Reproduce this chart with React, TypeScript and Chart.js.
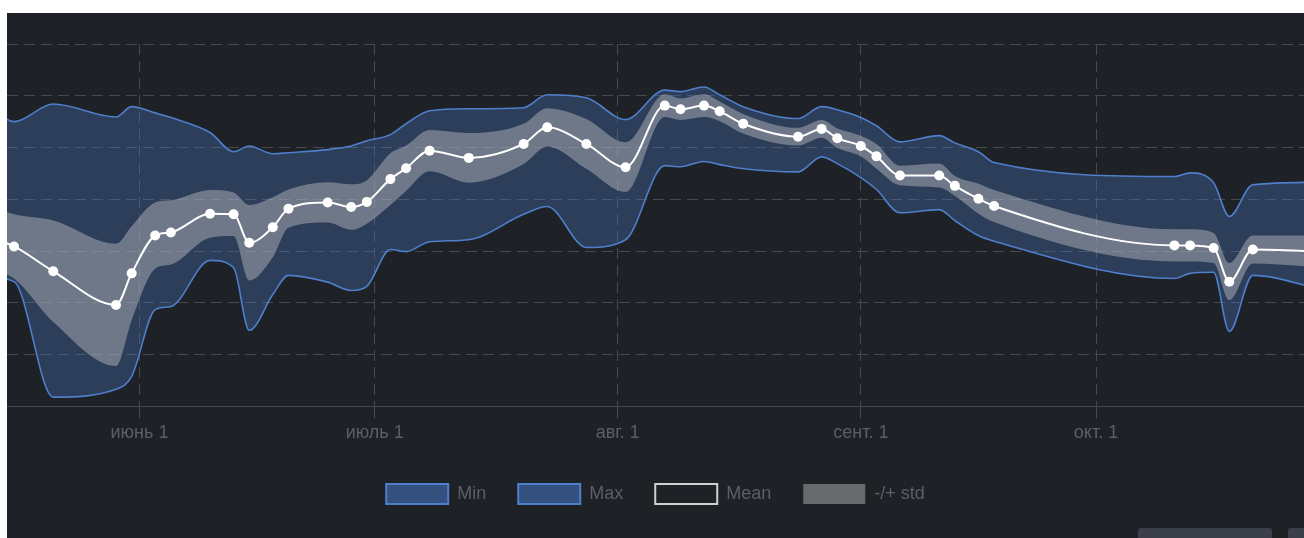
import { useEffect, useRef } from 'react';
import { Chart, registerables } from 'chart.js';

Chart.register(...registerables);

// Observation dates (month-day) and per-date statistics of the index
const DATES = ['05-13', '05-16', '05-21', '05-29', '05-31', '06-03', '06-05', '06-10', '06-13', '06-15', '06-18', '06-20', '06-25', '06-28', '06-30', '07-03', '07-05', '07-08', '07-13', '07-20', '07-23', '07-28', '08-02', '08-07', '08-09', '08-12', '08-14', '08-17', '08-24', '08-27', '08-29', '09-01', '09-03', '09-06', '09-11', '09-13', '09-16', '09-18', '10-11', '10-13', '10-16', '10-18', '10-21', '10-30'];

const MEAN = [0.326, 0.309, 0.261, 0.196, 0.257, 0.330, 0.336, 0.372, 0.371, 0.316, 0.346, 0.382, 0.394, 0.385, 0.395, 0.439, 0.460, 0.494, 0.480, 0.507, 0.539, 0.507, 0.462, 0.581, 0.574, 0.581, 0.570, 0.546, 0.521, 0.536, 0.518, 0.503, 0.483, 0.446, 0.446, 0.426, 0.401, 0.387, 0.311, 0.311, 0.306, 0.241, 0.303, 0.299];

const MIN = [0.249, 0.241, 0.018, 0.033, 0.058, 0.187, 0.193, 0.282, 0.268, 0.147, 0.216, 0.253, 0.240, 0.224, 0.232, 0.303, 0.299, 0.318, 0.322, 0.371, 0.386, 0.307, 0.322, 0.465, 0.463, 0.473, 0.467, 0.459, 0.453, 0.482, 0.469, 0.442, 0.419, 0.374, 0.380, 0.359, 0.330, 0.319, 0.247, 0.257, 0.259, 0.145, 0.253, 0.225];

const MAX = [0.577, 0.550, 0.584, 0.559, 0.579, 0.567, 0.558, 0.529, 0.492, 0.503, 0.488, 0.490, 0.496, 0.503, 0.513, 0.525, 0.546, 0.571, 0.575, 0.577, 0.602, 0.596, 0.554, 0.611, 0.608, 0.617, 0.602, 0.579, 0.556, 0.579, 0.573, 0.558, 0.542, 0.511, 0.523, 0.509, 0.492, 0.471, 0.444, 0.451, 0.432, 0.367, 0.428, 0.433];

const STD = [0.060, 0.062, 0.098, 0.118, 0.091, 0.064, 0.062, 0.046, 0.042, 0.073, 0.058, 0.037, 0.039, 0.044, 0.042, 0.050, 0.044, 0.040, 0.048, 0.039, 0.037, 0.048, 0.048, 0.022, 0.021, 0.022, 0.019, 0.019, 0.017, 0.017, 0.019, 0.020, 0.024, 0.019, 0.023, 0.019, 0.029, 0.031, 0.031, 0.031, 0.029, 0.036, 0.027, 0.031];

// Month-start ticks on the date axis
const TICK_DATES = ['06-01', '07-01', '08-01', '09-01', '10-01'];
const TICK_LABELS = ['июнь 1', 'июль 1', 'авг. 1', 'сент. 1', 'окт. 1'];

// Visible date window (fractional days)
const RANGE_START = '05-16';
const RANGE_START_OFFSET = -0.9;
const RANGE_END = '10-27';
const RANGE_END_OFFSET = 0.53;

const Y_MIN = 0;
const Y_MAX = 0.7;
const Y_STEP = 0.1;

const BG = '#1e2126';
const GRID = '#46494e';
const TEXT = '#5b5f66';
const BLUE_LINE = '#4f7fcb';
const BLUE_FILL = 'rgba(74, 120, 194, 0.33)';
const BLUE_LEGEND = '#33507f';
const STD_FILL = 'rgba(190, 190, 196, 0.45)';
const STD_LEGEND = '#68696c';
const FONT = "'Liberation Sans', Arial, Helvetica, sans-serif";

const dayOfYear = (md: string) => {
  const [m, d] = md.split('-').map(Number);
  return (Date.UTC(2021, m - 1, d) - Date.UTC(2021, 0, 1)) / 86400000;
};

const X = DATES.map(dayOfYear);
const TICK_DAYS = TICK_DATES.map(dayOfYear);
const toPoints = (vals: number[]) => vals.map((y, i) => ({ x: X[i], y }));

export default function App() {
  const canvasRef = useRef<HTMLCanvasElement | null>(null);

  useEffect(() => {
    if (!canvasRef.current) return;
    Chart.defaults.font.family = FONT;

    const chart = new Chart(canvasRef.current, {
      type: 'line',
      data: {
        datasets: [
          {
            label: 'Mean',
            data: toPoints(MEAN),
            borderColor: '#ffffff',
            backgroundColor: '#ffffff',
            borderWidth: 2,
            pointRadius: 5,
            pointBorderWidth: 0,
            pointBackgroundColor: '#ffffff',
            cubicInterpolationMode: 'monotone',
            fill: false,
          },
          {
            label: '-/+ std',
            data: toPoints(MEAN.map((m, i) => m + STD[i])),
            borderColor: 'transparent',
            borderWidth: 0,
            pointRadius: 0,
            backgroundColor: STD_FILL,
            cubicInterpolationMode: 'monotone',
            fill: '+1',
          },
          {
            label: 'std-lower',
            data: toPoints(MEAN.map((m, i) => m - STD[i])),
            borderColor: 'transparent',
            borderWidth: 0,
            pointRadius: 0,
            backgroundColor: STD_FILL,
            cubicInterpolationMode: 'monotone',
            fill: false,
          },
          {
            label: 'Min',
            data: toPoints(MIN),
            borderColor: BLUE_LINE,
            borderWidth: 1.6,
            pointRadius: 0,
            backgroundColor: BLUE_FILL,
            cubicInterpolationMode: 'monotone',
            fill: false,
          },
          {
            label: 'Max',
            data: toPoints(MAX),
            borderColor: BLUE_LINE,
            borderWidth: 1.6,
            pointRadius: 0,
            backgroundColor: BLUE_FILL,
            cubicInterpolationMode: 'monotone',
            fill: '-1',
          },
        ],
      },
      options: {
        animation: false,
        responsive: true,
        maintainAspectRatio: false,
        events: [],
        layout: { autoPadding: false, padding: { top: 31, bottom: 24, left: 0, right: 0 } },
        plugins: {
          tooltip: { enabled: false },
          legend: {
            display: true,
            position: 'bottom',
            labels: {
              boxWidth: 62,
              boxHeight: 20,
              padding: 32,
              color: TEXT,
              font: { size: 18, family: FONT },
              generateLabels: () => [
                { text: 'Min', fillStyle: BLUE_LEGEND, strokeStyle: BLUE_LINE, lineWidth: 2, hidden: false, fontColor: TEXT, datasetIndex: 3 },
                { text: 'Max', fillStyle: BLUE_LEGEND, strokeStyle: BLUE_LINE, lineWidth: 2, hidden: false, fontColor: TEXT, datasetIndex: 4 },
                { text: 'Mean', fillStyle: BG, strokeStyle: '#d0d0d0', lineWidth: 2, hidden: false, fontColor: TEXT, datasetIndex: 0 },
                { text: '-/+ std', fillStyle: STD_LEGEND, strokeStyle: STD_LEGEND, lineWidth: 0, hidden: false, fontColor: TEXT, datasetIndex: 1 },
              ],
            },
          },
        },
        scales: {
          x: {
            type: 'linear',
            min: dayOfYear(RANGE_START) + RANGE_START_OFFSET,
            max: dayOfYear(RANGE_END) + RANGE_END_OFFSET,
            afterBuildTicks: (scale: any) => {
              scale.ticks = TICK_DAYS.map((value) => ({ value }));
            },
            afterFit: (scale: any) => {
              scale.height += 4;
            },
            ticks: {
              autoSkip: false,
              maxRotation: 0,
              color: TEXT,
              font: { size: 18, family: FONT },
              padding: 4,
              callback: (value: any) => {
                const idx = TICK_DAYS.indexOf(Number(value));
                return idx >= 0 ? TICK_LABELS[idx] : '';
              },
            },
            grid: {
              color: GRID,
              lineWidth: 1,
              tickLength: 12,
              tickColor: GRID,
              tickBorderDash: [],
            },
            border: { display: true, color: GRID, width: 1, dash: [11, 6] },
          },
          y: {
            min: Y_MIN,
            max: Y_MAX,
            ticks: { display: false, stepSize: Y_STEP },
            grid: { color: GRID, lineWidth: 1, drawTicks: false },
            border: { display: false, dash: [11, 6] },
          },
        },
      } as any,
    });

    return () => chart.destroy();
  }, []);

  return (
    <div
      style={{
        position: 'fixed',
        left: 7,
        top: 13,
        right: 0,
        bottom: 0,
        background: BG,
        overflow: 'hidden',
      }}
    >
      <div style={{ position: 'absolute', left: 0, top: 0, width: 1297, height: 525 }}>
        <canvas ref={canvasRef} />
      </div>
      <div style={{ position: 'absolute', left: 1131, top: 515, width: 134, height: 20, background: '#3a3f49', borderRadius: 3 }} />
      <div style={{ position: 'absolute', left: 1281, top: 515, width: 30, height: 20, background: '#3a3f49', borderRadius: 3 }} />
    </div>
  );
}
